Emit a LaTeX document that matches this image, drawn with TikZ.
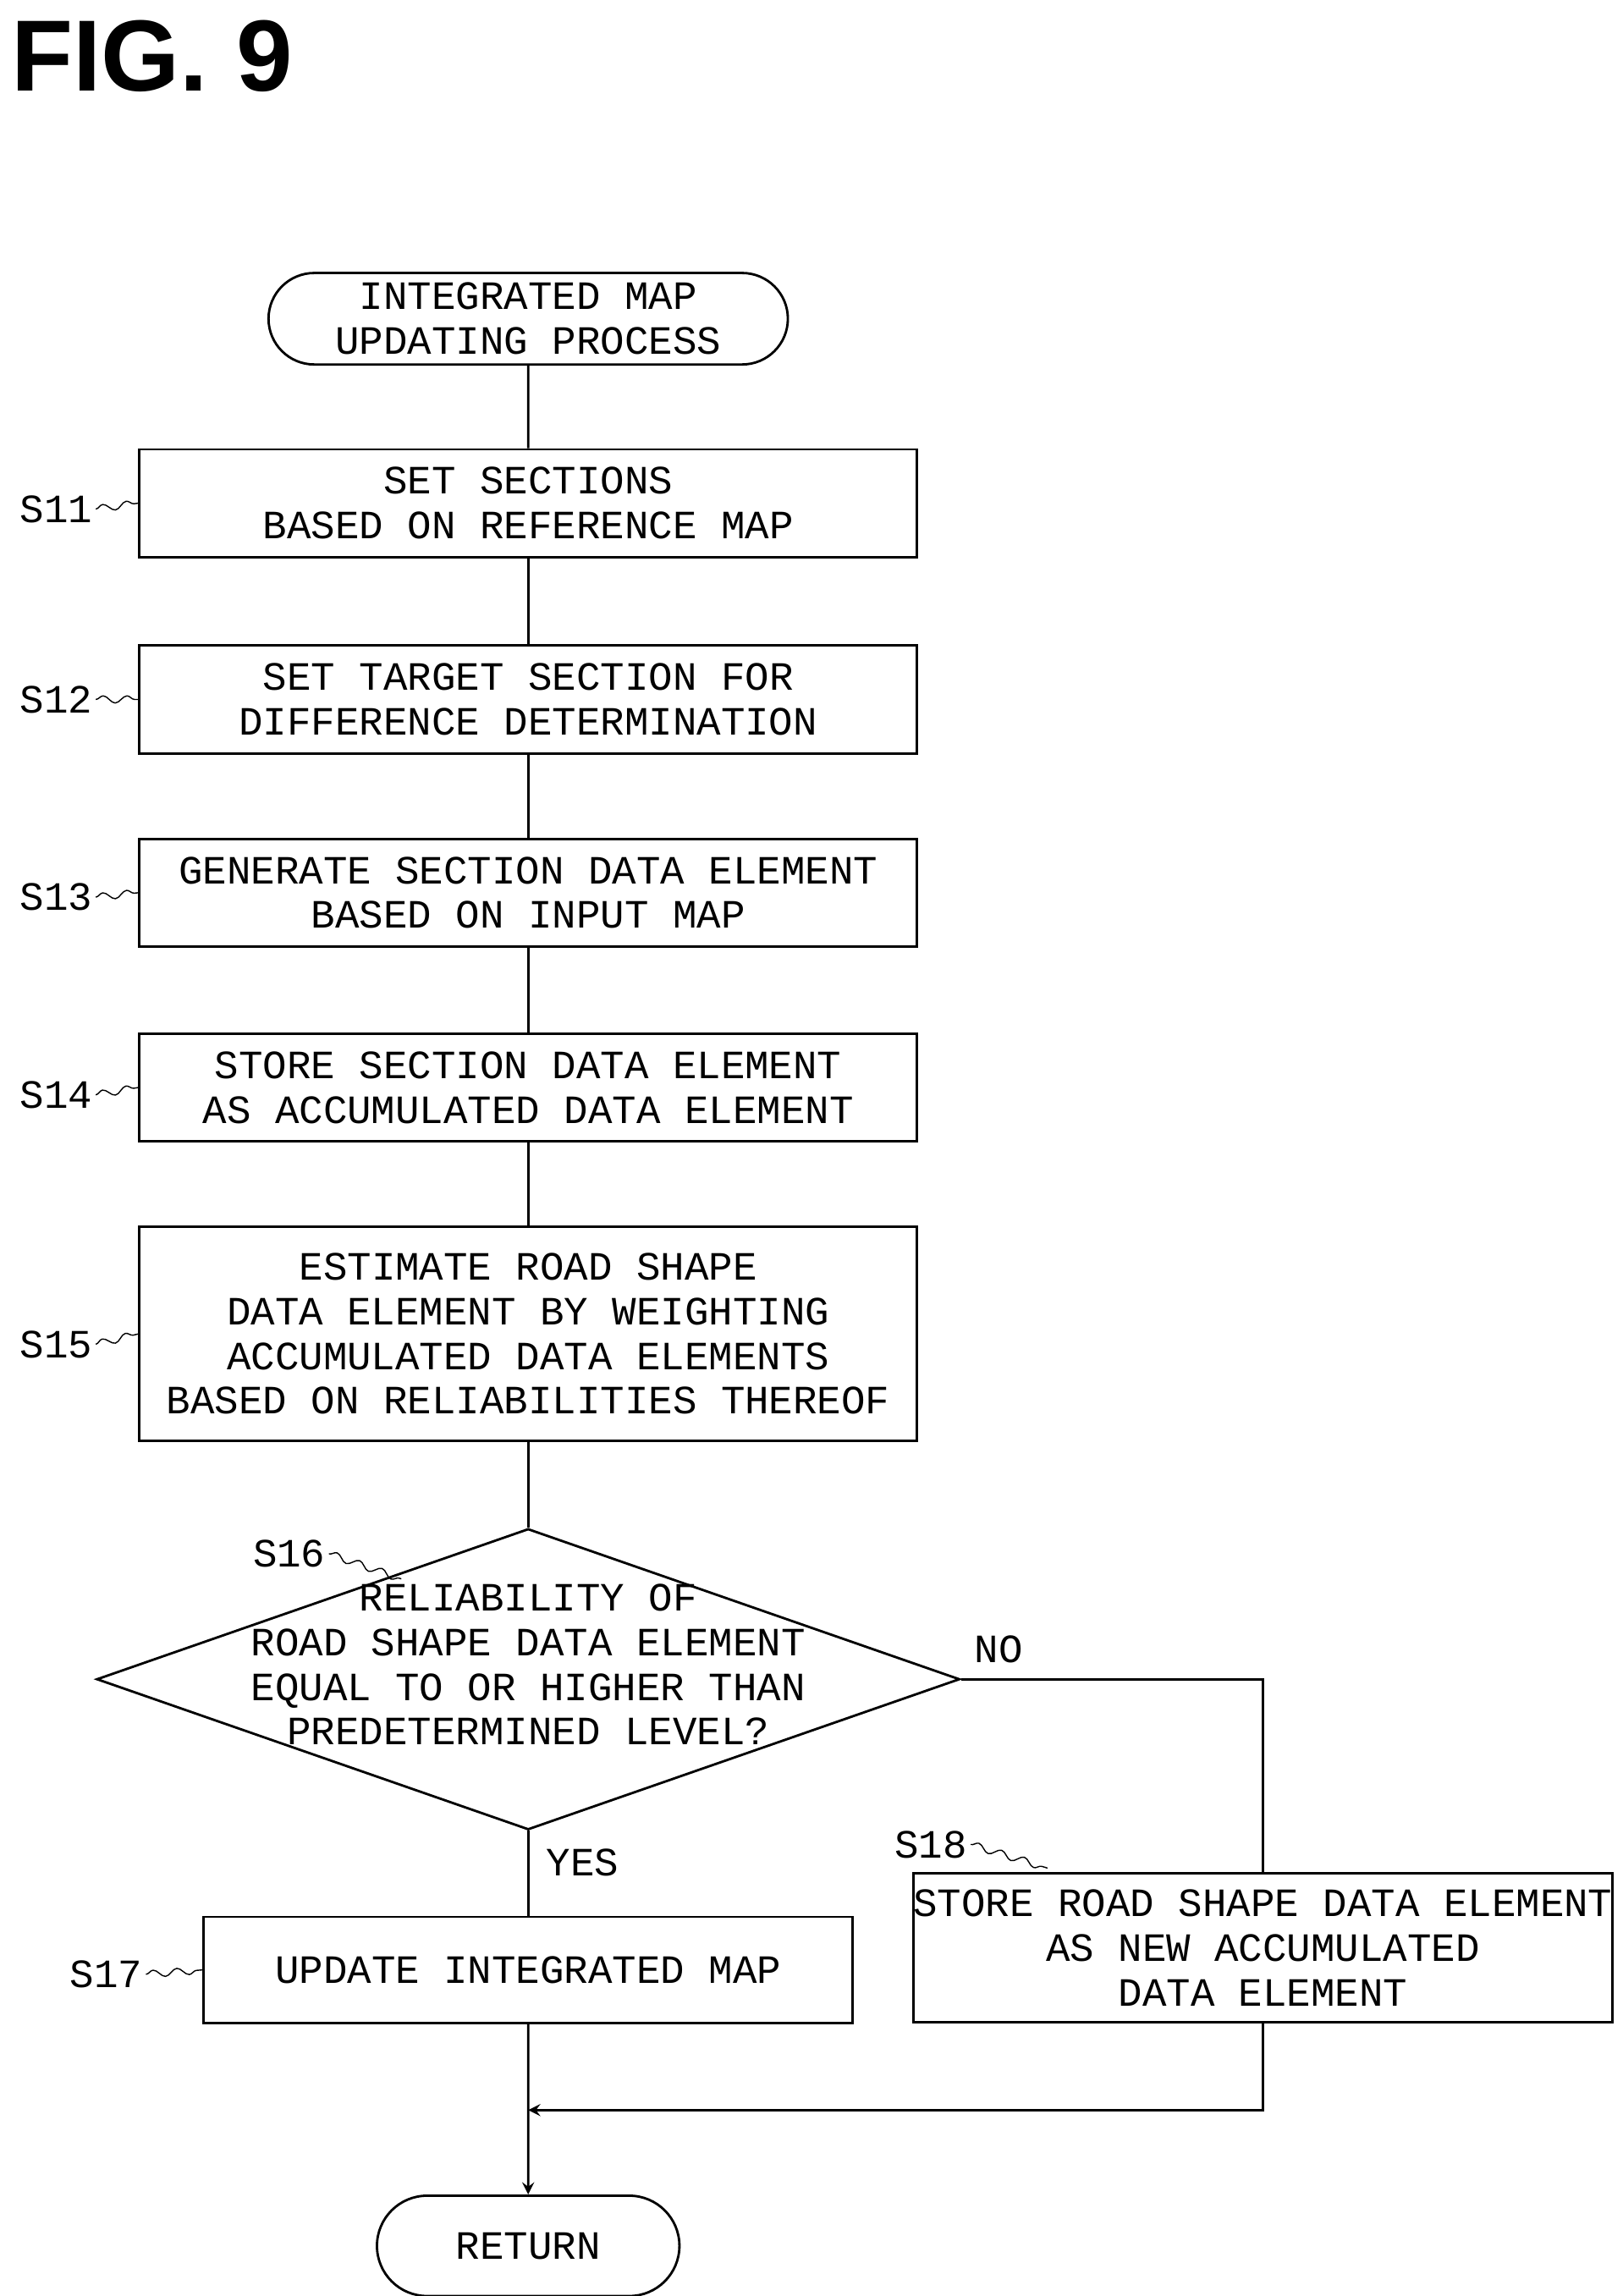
\documentclass[tikz,border=0pt]{standalone}
\usepackage{fontspec}
\setmainfont{Liberation Mono}
\setsansfont{Liberation Sans}
\usetikzlibrary{shapes.geometric,shapes.misc,arrows,positioning}
\usetikzlibrary{decorations.pathmorphing}
\begin{document}
\begin{tikzpicture}[x=0.01743cm,y=-0.01743cm,font=\fontsize{13.5}{15}\selectfont]
\tikzstyle{procbox}=[rectangle,draw=black,thick,align=center,inner sep=0pt]
\tikzstyle{term}=[rounded rectangle,draw=black,thick,align=center,inner sep=0pt]
\tikzstyle{tag}=[inner sep=1pt]
\tikzstyle{wavy}=[thin,decorate,decoration={snake,amplitude=1.2pt,segment length=8pt}]
\useasboundingbox (0,0) rectangle (1100,1556);
\node[font=\sffamily\bfseries\fontsize{34}{36}\selectfont] at (103,38) (fig) {FIG. 9};
\node[term,minimum width=352*0.01743cm,minimum height=62*0.01743cm] at (358,216) (start) {INTEGRATED MAP\\UPDATING PROCESS};
\node[procbox,minimum width=527*0.01743cm,minimum height=73*0.01743cm] at (358,341) (s11) {SET SECTIONS\\BASED ON REFERENCE MAP};
\node[procbox,minimum width=527*0.01743cm,minimum height=73*0.01743cm] at (358,474) (s12) {SET TARGET SECTION FOR\\DIFFERENCE DETERMINATION};
\node[procbox,minimum width=527*0.01743cm,minimum height=73*0.01743cm] at (358,605) (s13) {GENERATE SECTION DATA ELEMENT\\BASED ON INPUT MAP};
\node[procbox,minimum width=527*0.01743cm,minimum height=73*0.01743cm] at (358,737) (s14) {STORE SECTION DATA ELEMENT\\AS ACCUMULATED DATA ELEMENT};
\node[procbox,minimum width=527*0.01743cm,minimum height=145*0.01743cm] at (358,904) (s15) {ESTIMATE ROAD SHAPE\\DATA ELEMENT BY WEIGHTING\\ACCUMULATED DATA ELEMENTS\\BASED ON RELIABILITIES THEREOF};
\node[diamond,draw=black,thick,aspect=2.87,inner sep=0pt,minimum width=585*0.01743cm,minimum height=204*0.01743cm] at (358,1138) (s16) {};
\node[align=center] at (358,1128) (s16t) {RELIABILITY OF\\ROAD SHAPE DATA ELEMENT\\EQUAL TO OR HIGHER THAN\\PREDETERMINED LEVEL?};
\node[procbox,minimum width=440*0.01743cm,minimum height=72*0.01743cm] at (358,1335) (s17) {UPDATE INTEGRATED MAP};
\node[procbox,minimum width=468*0.01743cm,minimum height=101*0.01743cm] at (856,1320) (s18) {STORE ROAD SHAPE DATA ELEMENT\\AS NEW ACCUMULATED\\DATA ELEMENT};
\node[term,minimum width=205*0.01743cm,minimum height=68*0.01743cm] at (358,1522) (ret) {RETURN};

\node[tag] at (677,1118) (no) {NO};
\node[tag] at (395,1262) (yes) {YES};
\coordinate (c1) at (856,1138);
\coordinate (c2) at (856,1430);
\coordinate (c3) at (358,1430);

% step tags
\node[tag] at (38,345) (l11) {S11};
\node[tag] at (38,474) (l12) {S12};
\node[tag] at (38,608) (l13) {S13};
\node[tag] at (38,742) (l14) {S14};
\node[tag] at (38,911) (l15) {S15};
\node[tag] at (196,1053) (l16) {S16};
\node[tag] at (72,1338) (l17) {S17};
\node[tag] at (631,1250) (l18) {S18};
\coordinate (w16) at (272,1070);
\coordinate (w18) at (710,1266);
\draw[wavy] (l11.east) -- (s11.west);
\draw[wavy] (l12.east) -- (s12.west);
\draw[wavy] (l13.east) -- (s13.west);
\draw[wavy] (l14.east) -- (s14.west);
\draw[wavy] (l15.east) -- (s15.west);
\draw[wavy] (l16.east) -- (w16);
\draw[wavy] (l17.east) -- (s17.west);
\draw[wavy] (l18.east) -- (w18);

\draw[thick] (start) -- (s11);
\draw[thick] (s11) -- (s12);
\draw[thick] (s12) -- (s13);
\draw[thick] (s13) -- (s14);
\draw[thick] (s14) -- (s15);
\draw[thick] (s15) -- (s16);
\draw[thick] (s16) -- (s17);
\draw[thick] (s16.east) -- (c1) -- (s18.north);
\draw[thick,-stealth] (s18.south) -- (c2) -- (c3);
\draw[thick,-stealth] (s17) -- (ret);
\end{tikzpicture}
\end{document}
